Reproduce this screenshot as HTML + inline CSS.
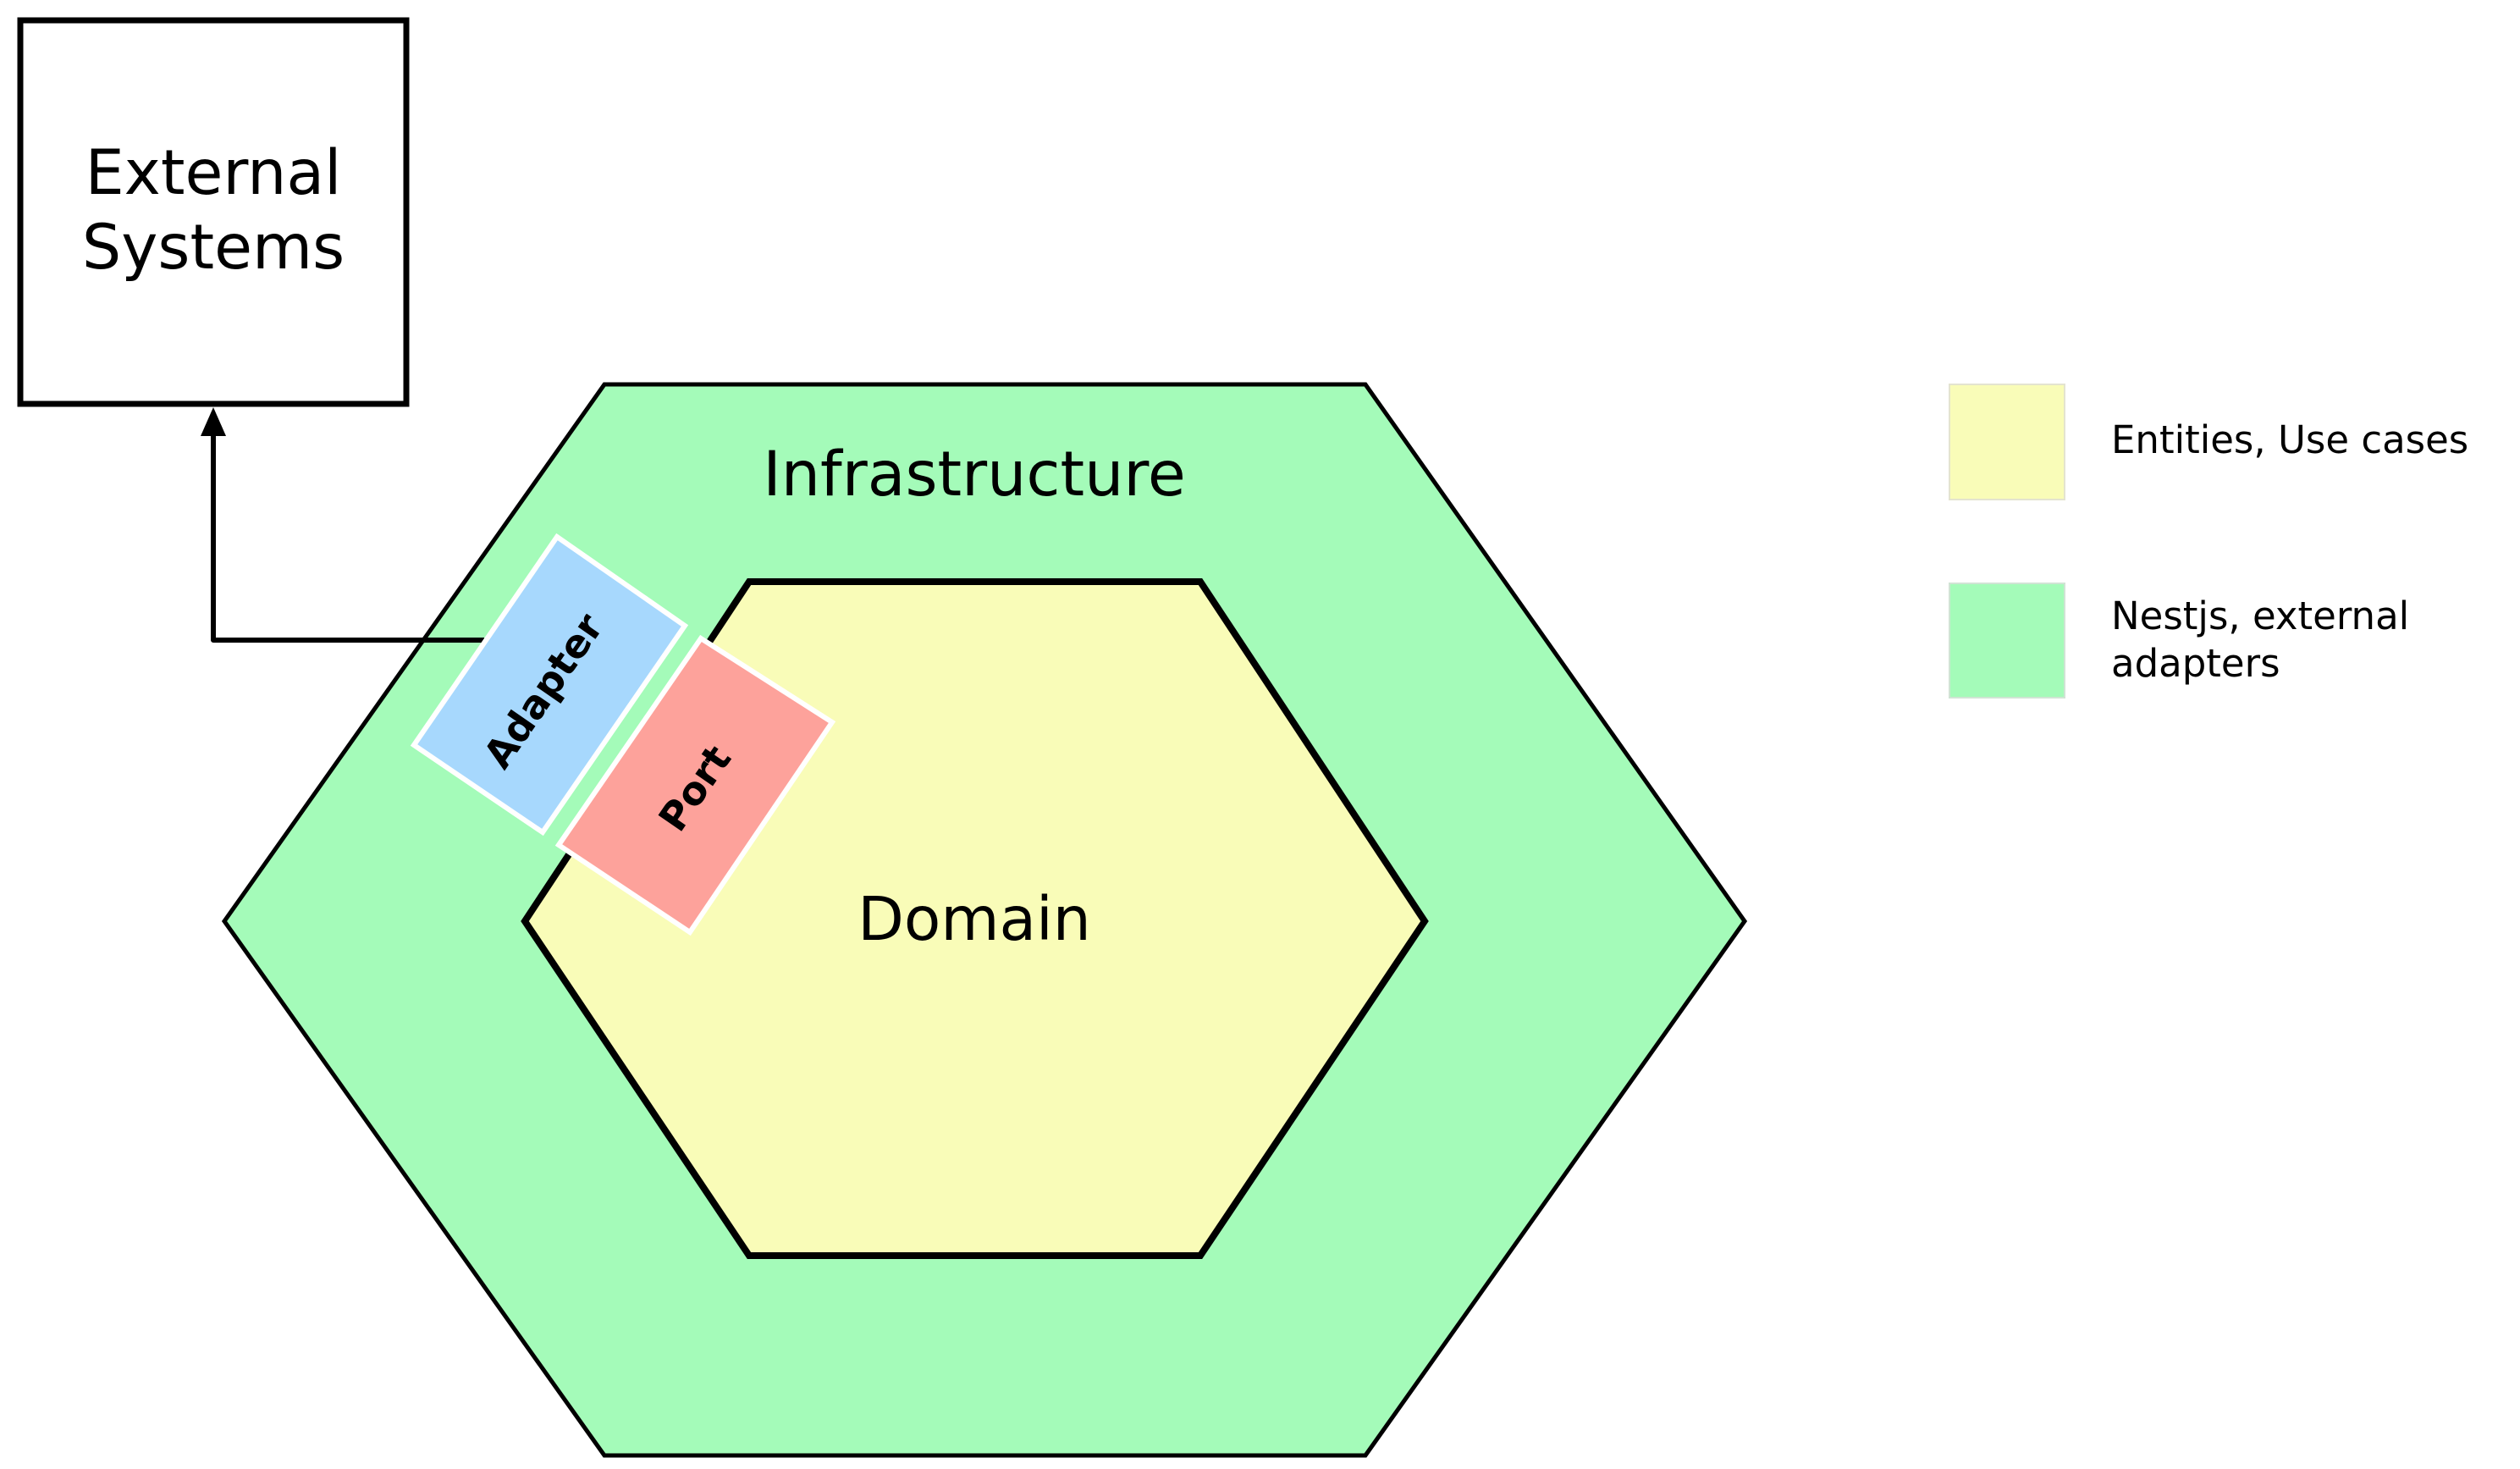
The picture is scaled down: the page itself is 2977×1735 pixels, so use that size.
<!DOCTYPE html>
<html><head><meta charset="utf-8"><style>
html,body{margin:0;padding:0;background:#fff;}
svg{display:block;}
text{font-family:"DejaVu Sans","Liberation Sans",sans-serif;}
</style></head><body>
<svg width="2977" height="1735" viewBox="0 0 2977 1735" xmlns="http://www.w3.org/2000/svg">
<rect x="0" y="0" width="2977" height="1735" fill="#fff"/>
<!-- External Systems -->
<rect x="24" y="24" width="456" height="453" fill="#fff" stroke="#000" stroke-width="7"/>
<text x="252" y="229" font-size="73" text-anchor="middle">External</text>
<text x="252" y="317" font-size="73" text-anchor="middle">Systems</text>
<!-- Outer hexagon -->
<polygon points="714,454 1613,454 2061,1088 1613,1719 714,1719 265,1088" fill="#a4fbb9" stroke="#000" stroke-width="5"/>
<text x="1151" y="585" font-size="73" text-anchor="middle">Infrastructure</text>
<!-- Inner hexagon -->
<polygon points="885,687 1418,687 1683,1088 1418,1483 885,1483 620,1088" fill="#f9fcb8" stroke="#000" stroke-width="8"/>
<text x="1151" y="1110" font-size="71" text-anchor="middle">Domain</text>
<!-- Connector -->
<polyline points="572,756 252,756 252,512" fill="none" stroke="#000" stroke-width="6" stroke-linejoin="round"/>
<polygon points="252,481 237,515 267,515" fill="#000"/>
<!-- Adapter -->
<polygon points="658,634 809,739 641,983 489,880" fill="#a7d8fd" stroke="#fff" stroke-width="6"/>
<text x="0" y="0" font-size="46" font-weight="bold" text-anchor="middle" transform="translate(655,825) rotate(-55.4)">Adapter</text>
<!-- Port -->
<polygon points="828,754 983,853 815,1101 660,998" fill="#fda29b" stroke="#fff" stroke-width="6"/>
<text x="0" y="0" font-size="46" font-weight="bold" text-anchor="middle" transform="translate(834,940) rotate(-55.4)">Port</text>
<!-- Legend -->
<rect x="2303" y="454" width="136" height="136" fill="#f9fcb8" stroke="#e4e4d0" stroke-width="2"/>
<text x="2494" y="535" font-size="45">Entities, Use cases</text>
<rect x="2303" y="689" width="136" height="135" fill="#a4fbb9" stroke="#d0e4d4" stroke-width="2"/>
<text x="2494" y="743" font-size="45">Nestjs, external</text>
<text x="2494" y="799" font-size="45">adapters</text>
</svg>
</body></html>
